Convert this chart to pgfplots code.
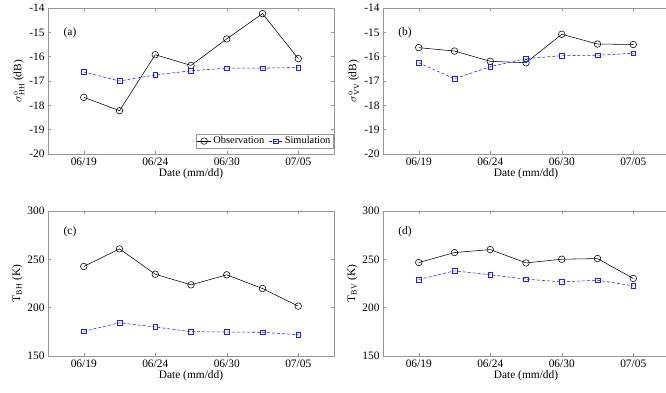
\documentclass[border=0pt]{standalone}
\usepackage{pgfplots}
\pgfplotsset{compat=1.18}
\usepackage{fontspec}
\setmainfont{Liberation Serif}
\definecolor{simblue}{RGB}{30,30,255}
\definecolor{framegray}{RGB}{150,150,150}
\newcommand{\fs}{\fontsize{11.4}{13.7}\selectfont}
\newcommand{\lfs}{\fontsize{10.4}{12.5}\selectfont}
\pgfplotsset{
  panel/.style={
    scale only axis, width=286pt, height=146pt,
    xmin=-1, xmax=7, xtick={0,2,4,6},
    xticklabels={06/19,06/24,06/30,07/05},
    xlabel={Date (mm/dd)},
    axis line style={draw=framegray},
    every tick/.style={draw=framegray, line width=0.4pt},
    major tick length=3pt,
    tick align=inside,
    xtick pos=both, ytick pos=both,
    ticklabel style={font=\fs},
    label style={font=\fs},
    xlabel style={yshift=4pt},
    ylabel style={yshift=-2pt},
    enlargelimits=false,
    clip=false,
  },
  obs/.style={black, line width=0.55pt, mark=o, mark size=3.3pt, mark options={solid, line width=0.55pt}},
  sim/.style={simblue, line width=0.55pt, dash pattern=on 3pt off 2pt, mark=square, mark size=2.3pt, mark options={solid, line width=0.55pt}},
}
\begin{document}
\begin{tikzpicture}
\useasboundingbox (0pt,0pt) rectangle (666pt,-393pt);
% (a)
\begin{axis}[panel, at={(48pt,-8pt)}, anchor=north west,
  ymin=-20, ymax=-14, ytick={-20,-19,-18,-17,-16,-15,-14},
  yticklabels={-20,-19,-18,-17,-16,-15,-14},
  ylabel={$\sigma^{\mathrm{o}}_{\mathrm{HH}}$ (dB)},
  legend columns=2,
  legend style={at={(0.997,0.04)}, anchor=south east, draw=framegray, font=\lfs,
    inner sep=0.5pt, /tikz/every even column/.append style={column sep=2pt}},
  legend image code/.code={\draw[mark repeat=2,mark phase=2] plot coordinates {(0pt,0pt) (7pt,0pt) (14pt,0pt)};},
]
\addplot[obs] coordinates {(0,-17.67) (1,-18.22) (2,-15.92) (3,-16.36) (4,-15.27) (5,-14.23) (6,-16.08)};
\addplot[sim] coordinates {(0,-16.63) (1,-17.00) (2,-16.75) (3,-16.58) (4,-16.47) (5,-16.47) (6,-16.45)};
\legend{Observation, Simulation}
\node[font=\fs] at (rel axis cs:0.077,0.83) {(a)};
\end{axis}
% (b)
\begin{axis}[panel, at={(383pt,-8pt)}, anchor=north west,
  ymin=-20, ymax=-14, ytick={-20,-19,-18,-17,-16,-15,-14},
  yticklabels={-20,-19,-18,-17,-16,-15,-14},
  ylabel={$\sigma^{\mathrm{o}}_{\mathrm{VV}}$ (dB)},
]
\addplot[obs] coordinates {(0,-15.63) (1,-15.77) (2,-16.19) (3,-16.25) (4,-15.08) (5,-15.48) (6,-15.50)};
\addplot[sim] coordinates {(0,-16.25) (1,-16.91) (2,-16.41) (3,-16.08) (4,-15.96) (5,-15.94) (6,-15.86)};
\node[font=\fs] at (rel axis cs:0.077,0.83) {(b)};
\end{axis}
% (c)
\begin{axis}[panel, at={(48pt,-211pt)}, anchor=north west, height=145pt,
  ymin=150, ymax=300, ytick={150,200,250,300},
  yticklabels={150,200,250,300},
  ylabel={$\mathrm{T}_{\mathrm{BH}}$ (K)},
]
\addplot[obs] coordinates {(0,242.6) (1,260.8) (2,234.6) (3,223.6) (4,234.0) (5,219.8) (6,201.6)};
\addplot[sim] coordinates {(0,175.5) (1,184.4) (2,180.0) (3,175.2) (4,174.8) (5,174.5) (6,172.0)};
\node[font=\fs] at (rel axis cs:0.077,0.857) {(c)};
\end{axis}
% (d)
\begin{axis}[panel, at={(383pt,-211pt)}, anchor=north west, height=145pt,
  ymin=150, ymax=300, ytick={150,200,250,300},
  yticklabels={150,200,250,300},
  ylabel={$\mathrm{T}_{\mathrm{BV}}$ (K)},
]
\addplot[obs] coordinates {(0,246.7) (1,257.0) (2,260.1) (3,246.3) (4,250.1) (5,250.8) (6,230.2)};
\addplot[sim] coordinates {(0,229.1) (1,238.1) (2,234.0) (3,229.5) (4,226.7) (5,228.4) (6,222.6)};
\node[font=\fs] at (rel axis cs:0.077,0.857) {(d)};
\end{axis}
\end{tikzpicture}
\end{document}
